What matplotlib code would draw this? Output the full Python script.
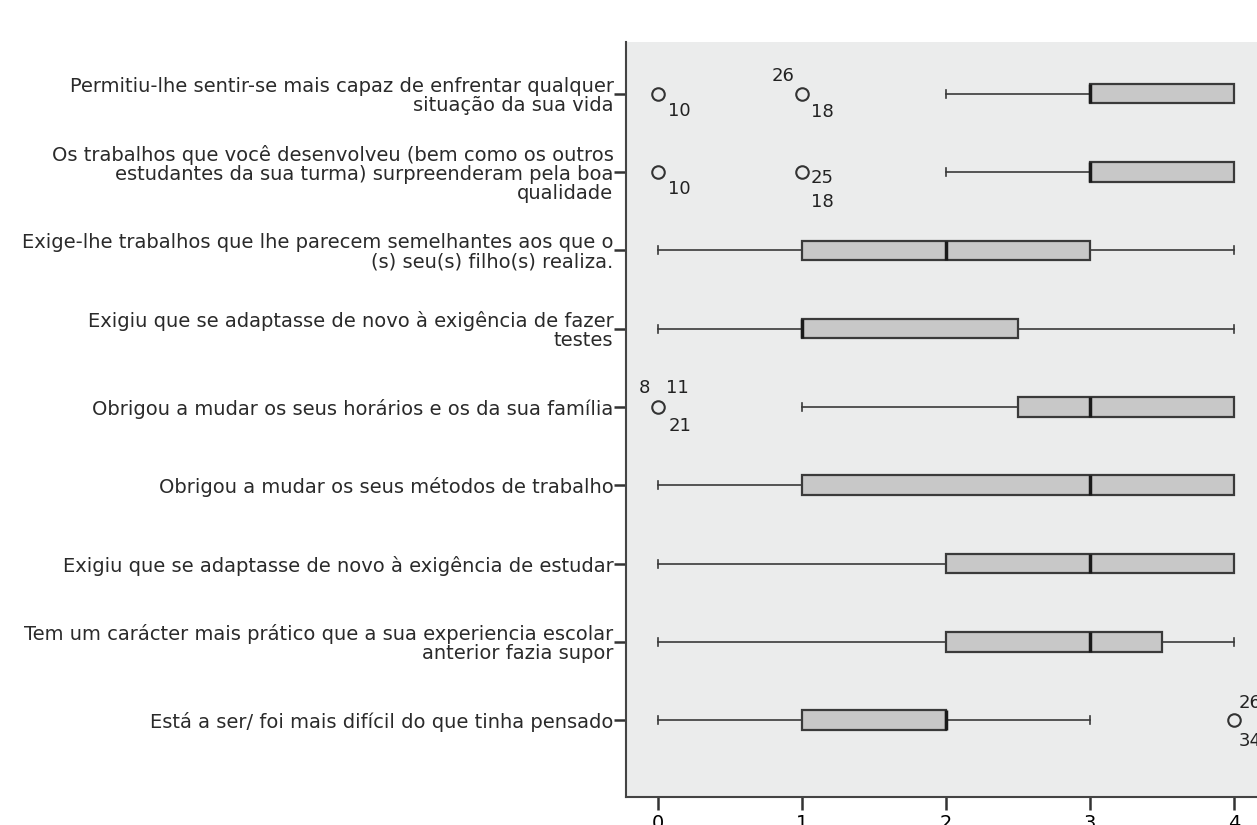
import numpy as np
import matplotlib
matplotlib.use("Agg")
import matplotlib.pyplot as plt

plt.rcParams['font.family'] = ['DejaVu Sans']

# --- dados (de cima para baixo) ---
itens = [
    'Permitiu-lhe sentir-se mais capaz de enfrentar qualquer\nsituação da sua vida',
    'Os trabalhos que você desenvolveu (bem como os outros\nestudantes da sua turma) surpreenderam pela boa\nqualidade',
    'Exige-lhe trabalhos que lhe parecem semelhantes aos que o\n(s) seu(s) filho(s) realiza.',
    'Exigiu que se adaptasse de novo à exigência de fazer\ntestes',
    'Obrigou a mudar os seus horários e os da sua família',
    'Obrigou a mudar os seus métodos de trabalho',
    'Exigiu que se adaptasse de novo à exigência de estudar',
    'Tem um carácter mais prático que a sua experiencia escolar\nanterior fazia supor',
    'Está a ser/ foi mais difícil do que tinha pensado',
]
whislo = [2, 2, 0, 0, 1, 0, 0, 0, 0]
q1     = [3, 3, 1, 1, 2.5, 1, 2, 2, 1]
med    = [3, 3, 2, 1, 3, 3, 3, 3, 2]
q3     = [4, 4, 3, 2.5, 4, 4, 4, 3.5, 2]
whishi = [4, 4, 4, 4, 4, 4, 4, 4, 3]
outliers = [[0, 1], [0, 1], [], [], [0], [], [], [], [4]]

# casos extremos: (indice do item, valor, numero do caso)
casos_item  = [0, 0, 0, 1, 1, 1, 4, 4, 4, 8, 8]
casos_valor = [0, 1, 1, 0, 1, 1, 0, 0, 0, 4, 4]
casos_id    = ['10', '26', '18', '10', '25', '18', '8', '11', '21', '26', '34']
# deslocamento do rotulo em pixels
casos_off = [(22, -17), (-19, 18), (21, -18), (22, -17), (20, -6), (21, -30),
             (-13, 19), (20, 19), (22, -19), (16, 17), (16, -21)]

n = len(itens)
pos = np.arange(n, 0, -1)

stats = []
for i in range(n):
    stats.append({'whislo': whislo[i], 'q1': q1[i], 'med': med[i], 'q3': q3[i],
                  'whishi': whishi[i], 'fliers': outliers[i]})

fig = plt.figure(figsize=(12.57, 8.25), dpi=100)
ax = fig.add_axes([626 / 1257, 1 - 797 / 825, 640 / 1257, 755 / 825])
ax.set_facecolor('#ebecec')

ax.bxp(stats, positions=pos, vert=False, widths=0.25, patch_artist=True,
       boxprops=dict(facecolor='#c8c8c8', edgecolor='#3a3a3a', linewidth=1.6),
       medianprops=dict(color='#1a1a1a', linewidth=2.5),
       whiskerprops=dict(color='#3a3a3a', linewidth=1.2),
       capprops=dict(color='#3a3a3a', linewidth=1.2),
       capwidths=0.1,
       flierprops=dict(marker='o', markerfacecolor='none', markeredgecolor='#333333',
                       markersize=9, markeredgewidth=1.5))

for it, v, cid, off in zip(casos_item, casos_valor, casos_id, casos_off):
    ax.annotate(cid, (v, pos[it]), xytext=off, textcoords='offset pixels',
                ha='center', va='center', fontsize=13, color='#222222')

ax.set_xlim(-0.22, 4.22)
ax.set_ylim(0.02, 9.66)
ax.set_xticks([0, 1, 2, 3, 4])
ax.set_yticks(pos)
ax.set_yticklabels(itens, fontsize=14, color='#2a2a2a', linespacing=1.0)
ax.tick_params(axis='y', length=9, width=1.8, pad=0, color='#333333')
ax.tick_params(axis='x', length=9, width=1.8, pad=3, labelsize=14, color='#333333')
for s in ['left', 'bottom']:
    ax.spines[s].set_color('#444444')
    ax.spines[s].set_linewidth(1.5)
ax.spines['top'].set_visible(False)
ax.spines['right'].set_visible(False)

fig.savefig('out.png', dpi=100)
